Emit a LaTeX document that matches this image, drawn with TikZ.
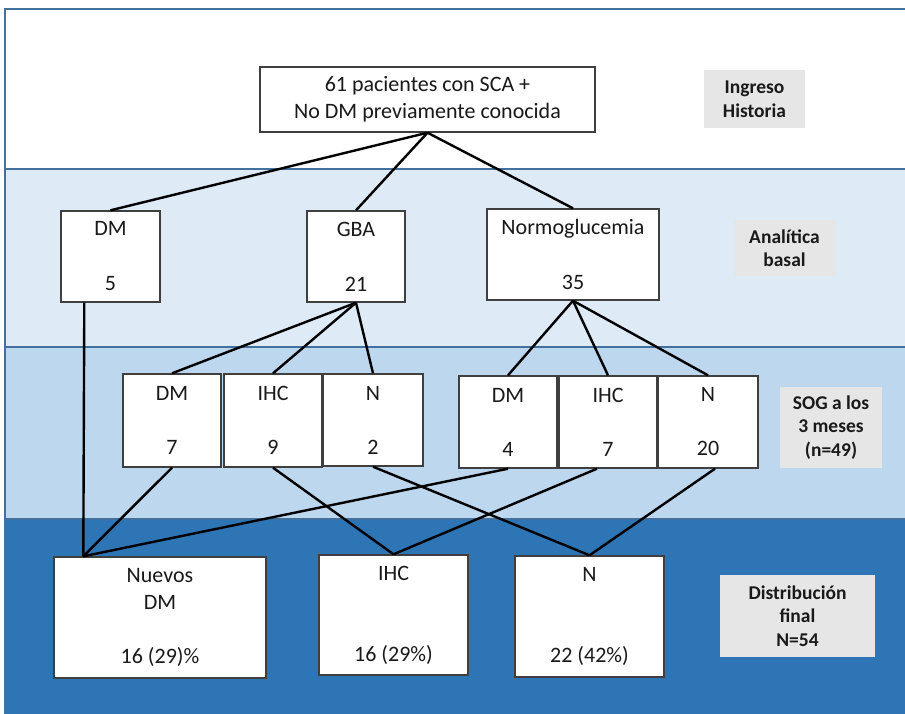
\documentclass[tikz,border=0pt]{standalone}
\usepackage{fontspec}
\setmainfont{Carlito}
\usetikzlibrary{positioning,calc}
\definecolor{bandA}{HTML}{DEEBF7}
\definecolor{bandB}{HTML}{BDD7EE}
\definecolor{bandC}{HTML}{2E75B6}
\definecolor{bandline}{HTML}{41719C}
\definecolor{boxgray}{HTML}{3F3F3F}
\definecolor{taggray}{HTML}{E7E6E6}

\begin{document}
\begin{tikzpicture}[x=1pt, y=-1pt,
    box/.style={rectangle, draw=boxgray, line width=1.4pt, fill=white, align=center, inner sep=0pt, font=\fontsize{22}{27}\selectfont, text=black!90},
    tag/.style={rectangle, fill=taggray, align=center, inner sep=0pt, font=\fontsize{19.5}{23.5}\selectfont\bfseries, text=black!90},
    link/.style={line width=2.4pt, black}
]
    \useasboundingbox (0,0) rectangle (905,713);

    % Bands
    \fill[white] (5,9) rectangle (915,169);
    \fill[bandA] (5,169) rectangle (915,347);
    \fill[bandB] (5,347) rectangle (915,519);
    \fill[bandC] (5,519) rectangle (915,720);
    \draw[bandline, line width=1.6pt] (915,9) -- (5,9) -- (5,720);
    \draw[bandline, line width=1.6pt] (5,169) -- (915,169);
    \draw[bandline, line width=1.6pt] (5,347) -- (915,347);
    \draw[bandline, line width=1.6pt] (5,519) -- (915,519);

    % Ingreso
    \node[box, minimum width=335pt, minimum height=65pt] (top) at (427.5,99.5) {61 pacientes con SCA +\\No DM previamente conocida};

    % Analitica basal
    \node[box, minimum width=99pt, minimum height=91pt] (dmA) at (110.5,256.5) {DM\\[28pt]5};
    \node[box, minimum width=98pt, minimum height=91pt] (gba) at (356,256.5) {GBA\\[28pt]21};
    \node[box, minimum width=172pt, minimum height=91pt] (normo) at (573,254.5) {Normoglucemia\\[28pt]35};

    % SOG a los 3 meses
    \node[box, minimum width=98pt, minimum height=93pt] (dmB) at (172,420.5) {DM\\[27pt]7};
    \node[box, minimum width=98pt, minimum height=93pt] (ihcB) at (273,420.5) {IHC\\[27pt]9};
    \node[box, minimum width=100pt, minimum height=92pt] (nB) at (373,420) {N\\[27pt]2};
    \node[box, minimum width=98pt, minimum height=92pt] (dmC) at (508,422) {DM\\[27pt]4};
    \node[box, minimum width=98pt, minimum height=92pt] (ihcC) at (608,422) {IHC\\[27pt]7};
    \node[box, minimum width=100pt, minimum height=92pt] (nC) at (708,422) {N\\[27pt]20};

    % Distribucion final
    \node[box, minimum width=212pt, minimum height=121pt] (nuevos) at (160,617.5) {Nuevos\\DM\\[27pt]16 (29)\%};
    \node[box, minimum width=149pt, minimum height=120pt] (ihcF) at (393.5,615) {IHC\\[54pt]16 (29\%)};
    \node[box, minimum width=149pt, minimum height=121pt] (nF) at (589.5,616.5) {N\\[54pt]22 (42\%)};
    \coordinate (nd) at ([xshift=30pt]nuevos.north west);

    % Stage labels
    \node[tag, minimum width=101pt, minimum height=58pt] (t1) at (754.5,99) {Ingreso\\Historia};
    \node[tag, minimum width=101pt, minimum height=56pt] (t2) at (784.5,248) {Analítica\\basal};
    \node[tag, minimum width=102pt, minimum height=81pt] (t3) at (831,427.5) {SOG a los\\3 meses\\(n=49)};
    \node[tag, minimum width=155pt, minimum height=82pt] (t4) at (797.5,616) {Distribución\\final\\N=54};

    % Connectors
    \draw[link] (top.south) -- (dmA.north);
    \draw[link] (top.south) -- (gba.north);
    \draw[link] (top.south) -- (normo.north);
    \draw[link] (gba.south) -- (dmB.north);
    \draw[link] (gba.south) -- (ihcB.north);
    \draw[link] (gba.south) -- (nB.north);
    \draw[link] (normo.south) -- (dmC.north);
    \draw[link] (normo.south) -- (ihcC.north);
    \draw[link] (normo.south) -- (nC.north);
    \draw[link] ([xshift=24pt]dmA.south west) -- (nd);
    \draw[link] (dmB.south) -- (nd);
    \draw[link] (dmC.south) -- (nd);
    \draw[link] (ihcB.south) -- (ihcF.north);
    \draw[link] ([xshift=-11pt]ihcC.south) -- (ihcF.north);
    \draw[link] (nB.south) -- (nF.north);
    \draw[link] ([xshift=7pt]nC.south) -- (nF.north);
\end{tikzpicture}
\end{document}
